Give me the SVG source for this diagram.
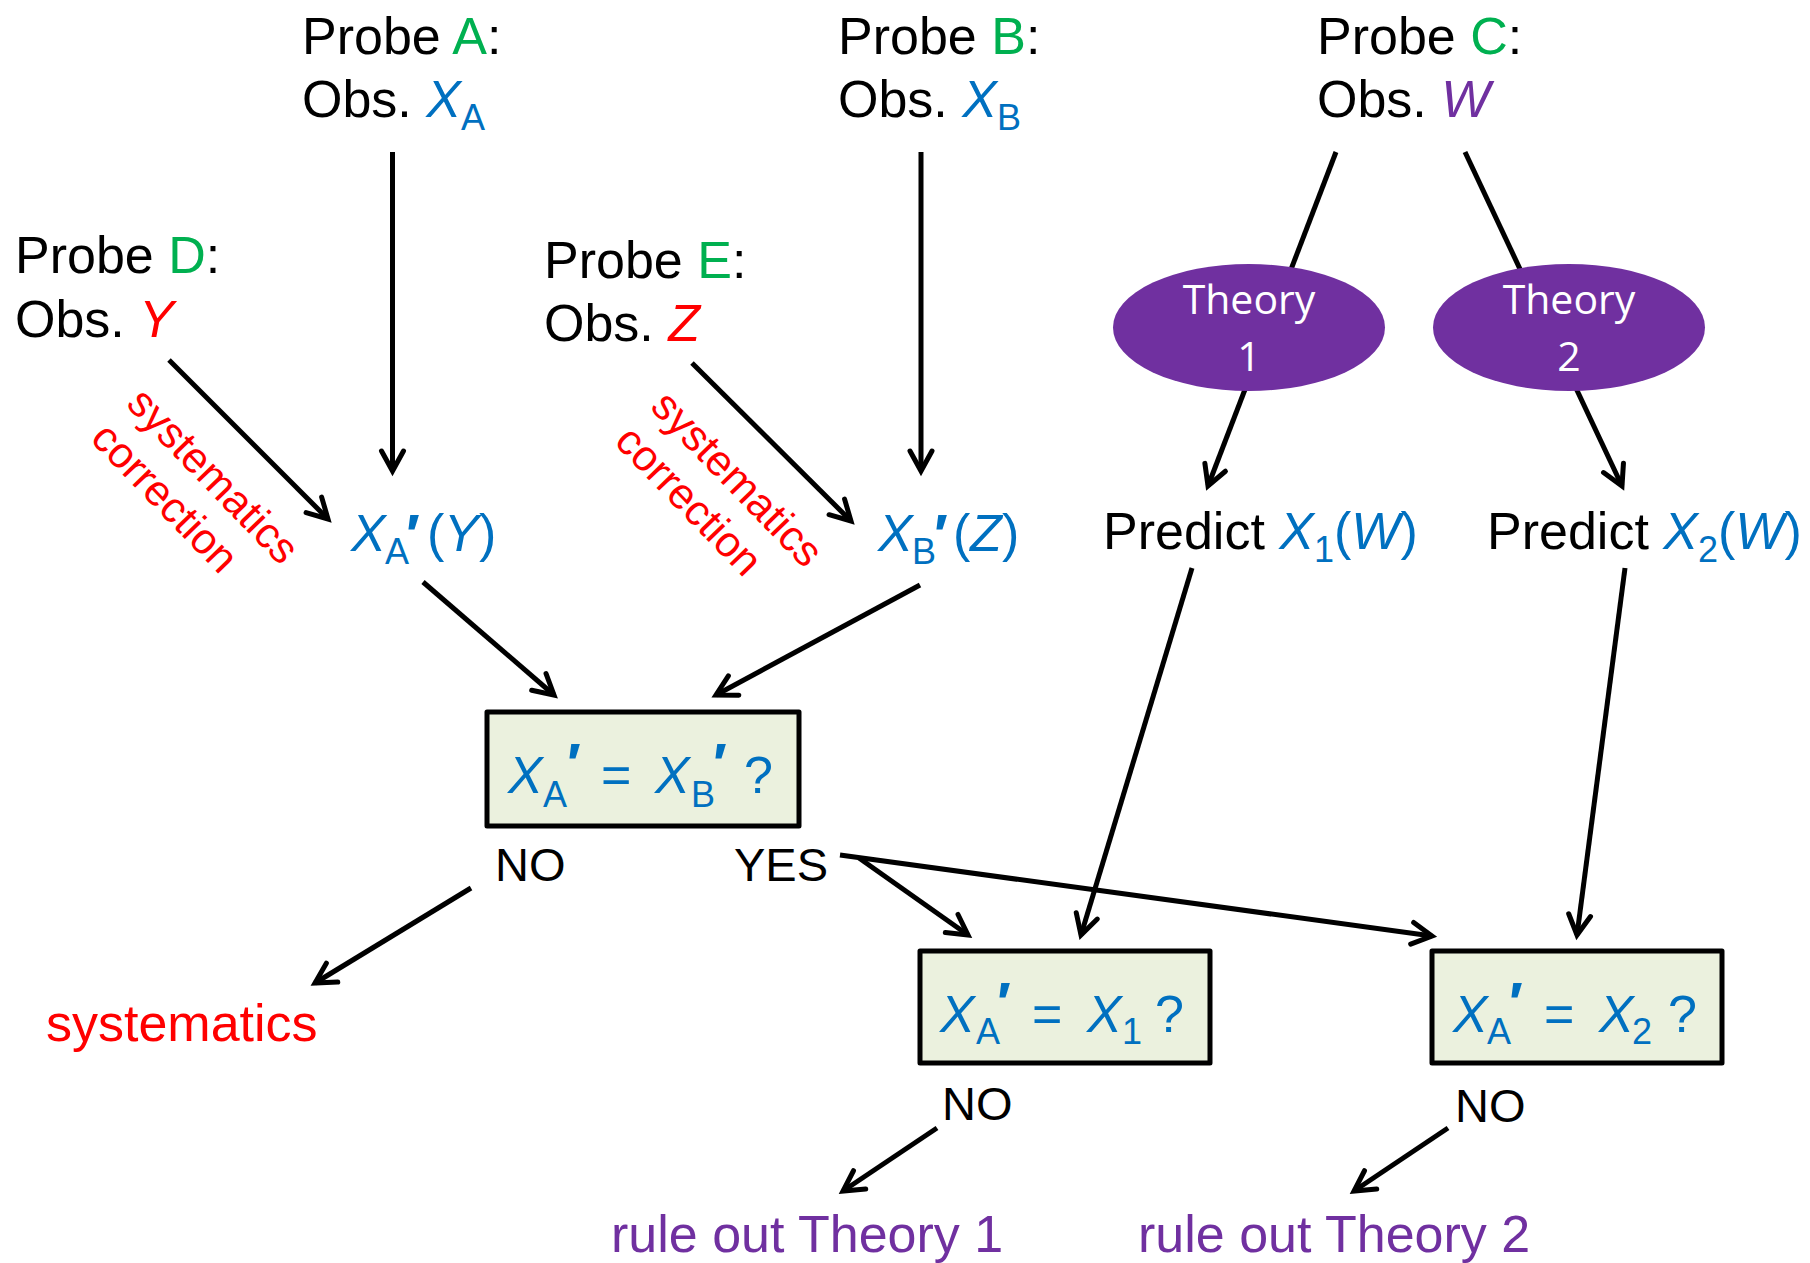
<svg xmlns="http://www.w3.org/2000/svg" width="1810" height="1263" viewBox="0 0 1810 1263">
<style>
.t{font-family:"Liberation Sans",Arial,sans-serif;font-size:52px;fill:#000}
.i{font-style:italic}
.sub{font-size:36px}
.pr{font-weight:bold;font-size:58px}
.yn{font-size:47px}
.g{fill:#00B050}.b{fill:#0070C0}.r{fill:#FF0000}.p{fill:#7030A0}
.rot{font-family:"Liberation Sans",Arial,sans-serif;font-size:43px;fill:#FF0000}
.th{font-family:"Open Sans","Noto Sans",sans-serif;font-size:41px;fill:#fff;text-anchor:middle}
.box{fill:#EBF1DE;stroke:#000;stroke-width:5;stroke-linejoin:round}
.ell{fill:#7030A0}
#connectors line{stroke:#000;stroke-width:5;marker-end:url(#ah)}
</style>
<defs>
<marker id="ah" viewBox="-25 -15 35 30" markerWidth="35" markerHeight="30" refX="0" refY="0" orient="auto" markerUnits="userSpaceOnUse">
<path d="M-20,-11 L0,0 L-20,11" fill="none" stroke="#000" stroke-width="5" stroke-linecap="round"/>
</marker>
</defs>
<rect width="1810" height="1263" fill="#fff"/>

<g id="connectors">
<line x1="392.5" y1="152" x2="392.5" y2="471"/>
<line x1="921" y1="152" x2="921" y2="471"/>
<line x1="169" y1="360" x2="328" y2="519"/>
<line x1="692" y1="363" x2="851" y2="521"/>
<line x1="1336" y1="152" x2="1208" y2="486"/>
<line x1="1465" y1="152" x2="1622" y2="486"/>
<line x1="423" y1="582" x2="554" y2="695"/>
<line x1="920" y1="585" x2="716" y2="695"/>
<line x1="471" y1="888" x2="315" y2="983"/>
<line x1="859" y1="858" x2="968" y2="935"/>
<line x1="840" y1="855" x2="1432" y2="936"/>
<line x1="1192" y1="568" x2="1081" y2="935"/>
<line x1="1625" y1="568" x2="1577" y2="935"/>
<line x1="937" y1="1128" x2="843" y2="1191"/>
<line x1="1448" y1="1128" x2="1354" y2="1191"/>
</g>

<g id="probeA">
<text class="t" x="302" y="54">Probe <tspan class="g">A</tspan>:</text>
<text class="t" x="302" y="117">Obs. <tspan class="b i">X</tspan><tspan class="b sub" dy="13">A</tspan></text>
</g>
<g id="probeB">
<text class="t" x="838" y="54">Probe <tspan class="g">B</tspan>:</text>
<text class="t" x="838" y="117">Obs. <tspan class="b i">X</tspan><tspan class="b sub" dy="13">B</tspan></text>
</g>
<g id="probeC">
<text class="t" x="1317" y="54">Probe <tspan class="g">C</tspan>:</text>
<text class="t" x="1317" y="117">Obs. <tspan class="p i">W</tspan></text>
</g>
<g id="probeD">
<text class="t" x="15" y="273">Probe <tspan class="g">D</tspan>:</text>
<text class="t" x="15" y="337">Obs. <tspan class="r i">Y</tspan></text>
</g>
<g id="probeE">
<text class="t" x="544" y="278">Probe <tspan class="g">E</tspan>:</text>
<text class="t" x="544" y="341">Obs. <tspan class="r i">Z</tspan></text>
</g>

<g id="corrD" transform="translate(125,405) rotate(46)">
<text class="rot" x="0" y="0">systematics</text>
<text class="rot" x="0" y="50">correction</text>
</g>
<g id="corrE" transform="translate(649,408) rotate(46)">
<text class="rot" x="0" y="0">systematics</text>
<text class="rot" x="0" y="50">correction</text>
</g>

<g id="xaY">
<text class="t b" y="551"><tspan class="i" x="351">X</tspan><tspan class="sub" x="385" y="564">A</tspan><tspan class="pr" x="406" y="555">′</tspan><tspan x="427" y="551">(</tspan><tspan class="i" x="444">Y</tspan><tspan x="479">)</tspan></text>
</g>
<g id="xbZ">
<text class="t b" y="551"><tspan class="i" x="878">X</tspan><tspan class="sub" x="912" y="564">B</tspan><tspan class="pr" x="934" y="555">′</tspan><tspan x="953" y="551">(</tspan><tspan class="i" x="970">Z</tspan><tspan x="1002">)</tspan></text>
</g>

<g id="theory1">
<ellipse class="ell" cx="1249" cy="327.5" rx="136" ry="63.5"/>
<text class="th" x="1249" y="314">Theory</text>
<text class="th" x="1249" y="371">1</text>
</g>
<g id="theory2">
<ellipse class="ell" cx="1569" cy="327.5" rx="136" ry="63.5"/>
<text class="th" x="1569" y="314">Theory</text>
<text class="th" x="1569" y="371">2</text>
</g>

<g id="predict1">
<text class="t" x="1103" y="549">Predict <tspan class="b i">X</tspan><tspan class="b sub" dy="13">1</tspan><tspan class="b" dy="-13">(</tspan><tspan class="b i">W</tspan><tspan class="b">)</tspan></text>
</g>
<g id="predict2">
<text class="t" x="1487" y="549">Predict <tspan class="b i">X</tspan><tspan class="b sub" dy="13">2</tspan><tspan class="b" dy="-13">(</tspan><tspan class="b i">W</tspan><tspan class="b">)</tspan></text>
</g>

<g id="box1">
<rect class="box" x="487" y="712" width="312" height="114"/>
<text class="t b" y="793"><tspan class="i" x="508">X</tspan><tspan class="sub" x="543" y="807">A</tspan><tspan class="pr" x="567" y="784">′</tspan><tspan x="601" y="793">=</tspan><tspan class="i" x="655">X</tspan><tspan class="sub" x="691" y="807">B</tspan><tspan class="pr" x="713" y="784">′</tspan><tspan x="744" y="793">?</tspan></text>
</g>
<g id="box2">
<rect class="box" x="920" y="951" width="290" height="112"/>
<text class="t b" y="1032"><tspan class="i" x="940">X</tspan><tspan class="sub" x="976" y="1044">A</tspan><tspan class="pr" x="997" y="1023">′</tspan><tspan x="1032" y="1032">=</tspan><tspan class="i" x="1087">X</tspan><tspan class="sub" x="1122" y="1044">1</tspan><tspan x="1155" y="1032">?</tspan></text>
</g>
<g id="box3">
<rect class="box" x="1432" y="951" width="290" height="112"/>
<text class="t b" y="1032"><tspan class="i" x="1453">X</tspan><tspan class="sub" x="1487" y="1044">A</tspan><tspan class="pr" x="1509" y="1023">′</tspan><tspan x="1544" y="1032">=</tspan><tspan class="i" x="1599">X</tspan><tspan class="sub" x="1632" y="1044">2</tspan><tspan x="1668" y="1032">?</tspan></text>
</g>

<g id="labels">
<text class="t yn" x="495" y="881">NO</text>
<text class="t yn" x="734" y="881">YES</text>
<text class="t yn" x="942" y="1120">NO</text>
<text class="t yn" x="1455" y="1122">NO</text>
</g>
<g id="systematics"><text class="t r" x="46" y="1041">systematics</text></g>
<g id="ruleout1"><text class="t p" x="611" y="1252">rule out Theory 1</text></g>
<g id="ruleout2"><text class="t p" x="1138" y="1252">rule out Theory 2</text></g>
</svg>
